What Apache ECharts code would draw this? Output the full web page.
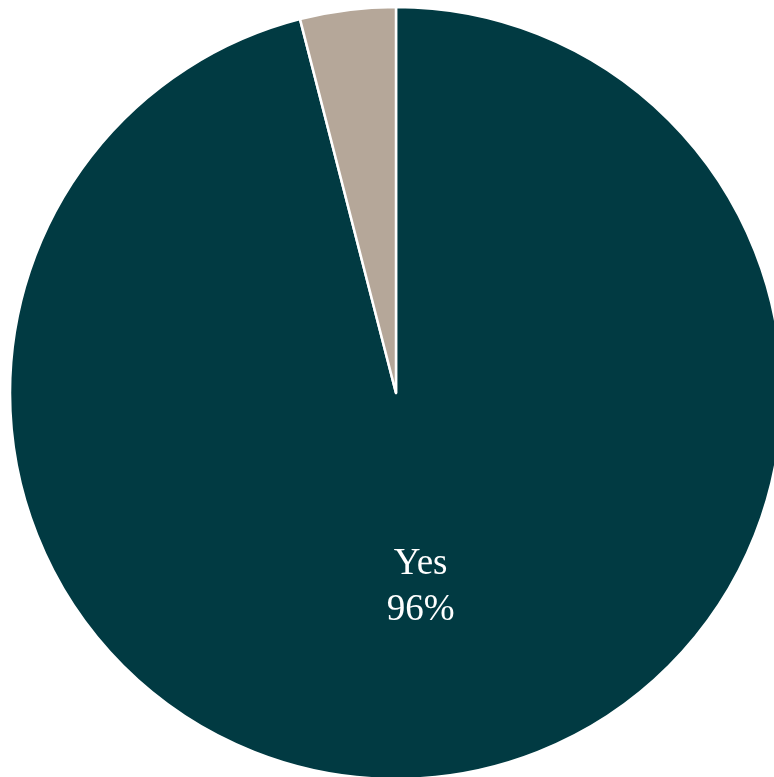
<!DOCTYPE html>
<html>
<head>
<meta charset="utf-8">
<style>
  html, body { margin: 0; padding: 0; background: #ffffff; }
  #chart { width: 774px; height: 777px; }
</style>
<script src="https://cdn.jsdelivr.net/npm/echarts@6/dist/echarts.min.js"></script>
</head>
<body>
<div id="chart"></div>
<script>
// Answer shares (percent)
const categories = ['Yes', 'No'];
const values = [96, 4];
const colors = ['#013a42', '#b5a799'];
const showLabel = [true, false];

const chart = echarts.init(document.getElementById('chart'), null, { renderer: 'canvas' });

const data = categories.map((name, i) => ({
  name: name,
  value: values[i],
  itemStyle: { color: colors[i] },
  label: { show: showLabel[i] }
}));

chart.setOption({
  animation: false,
  series: [{
    type: 'pie',
    center: [396, 393],
    radius: [0, 386],
    startAngle: 90,
    clockwise: true,
    avoidLabelOverlap: false,
    itemStyle: { borderColor: '#ffffff', borderWidth: 2.5 },
    label: {
      position: 'inside',
      formatter: '{b}\n{d}%',
      color: '#ffffff',
      fontFamily: '"Liberation Serif", "DejaVu Serif", serif',
      fontSize: 37,
      lineHeight: 46
    },
    labelLine: { show: false },
    emphasis: { disabled: true },
    data: data
  }]
});
</script>
</body>
</html>
